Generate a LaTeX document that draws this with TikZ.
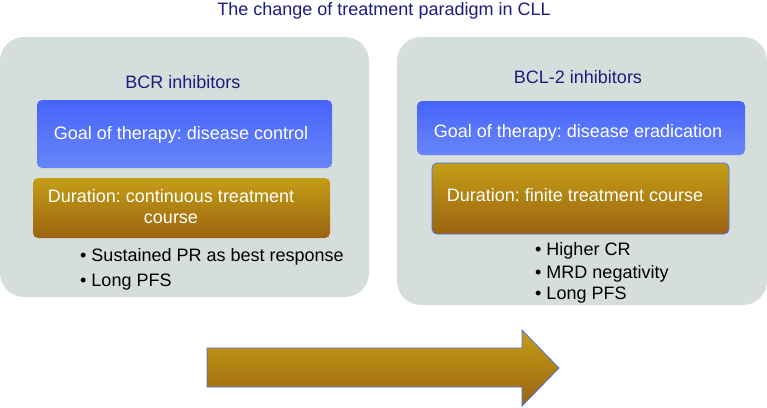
\documentclass[tikz,border=0pt]{standalone}
\usepackage{fontspec}
\setmainfont{Liberation Sans}
\usepackage{xcolor}
\usepackage{tikz}
\frenchspacing

\definecolor{panelgray}{RGB}{214,222,220}
\definecolor{navy}{RGB}{28,28,128}
\definecolor{bluetop}{RGB}{70,100,250}
\definecolor{bluebot}{RGB}{104,134,248}
\definecolor{goldtop}{RGB}{196,158,22}
\definecolor{goldbot}{RGB}{155,100,16}
\definecolor{edgeblue}{RGB}{80,110,240}

\begin{document}
\begin{tikzpicture}[x=1pt,y=-1pt,font=\fontsize{18}{20.5}\selectfont]
	\useasboundingbox (0,0) rectangle (767,407);
	\node[anchor=base,text=navy] (title) at (384,15) {The change of treatment paradigm in CLL};
	\tikzstyle{panel}=[fill=panelgray,rounded corners=24pt,inner sep=0pt,outer sep=0pt]
	\node[panel,minimum width=369pt,minimum height=260pt] (p1) at (184.5,167) {};
	\node[panel,minimum width=370pt,minimum height=268pt] (p2) at (582,171) {};
	\node[anchor=base,text=navy] (h1) at (183,88) {BCR inhibitors};
	\node[anchor=base,text=navy] (h2) at (578,83) {BCL-2 inhibitors};
	\tikzstyle{goalbox}=[top color=bluetop,bottom color=bluebot,rounded corners=5pt,inner sep=0pt,outer sep=0pt]
	\node[goalbox,minimum width=295pt,minimum height=68pt] (g1) at (184.5,134) {};
	\node[goalbox,minimum width=328pt,minimum height=54pt] (g2) at (581,128) {};
	\tikzstyle{durbox}=[top color=goldtop,bottom color=goldbot,rounded corners=5pt,inner sep=0pt,outer sep=0pt]
	\node[durbox,minimum width=297pt,minimum height=60pt] (d1) at (181.5,208) {};
	\node[durbox,draw=edgeblue,line width=0.8pt,minimum width=297pt,minimum height=71pt] (d2) at (580.5,198.5) {};
	\tikzstyle{every node}=[text=white,inner sep=0pt,anchor=base,align=center]
	\node (g1t) at (181,139) {Goal of therapy: disease control};
	\node (g2t) at (578,137) {Goal of therapy: disease eradication};
	\node (d1t) at (171,223) {Duration: continuous treatment\\course};
	\node (d2t) at (575,201) {Duration: finite treatment course};
	\tikzstyle{every node}=[text=black,inner sep=0pt,anchor=base west]
	\node (b11) at (80,261) {\textbullet\ Sustained PR as best response};
	\node (b12) at (80,286) {\textbullet\ Long PFS};
	\node (b21) at (535,255) {\textbullet\ Higher CR};
	\node (b22) at (535,278) {\textbullet\ MRD negativity};
	\node (b23) at (535,299) {\textbullet\ Long PFS};
	% arrow
	\coordinate (a1) at (207,348);
	\coordinate (a2) at (522,348);
	\coordinate (a3) at (522,330);
	\coordinate (tip) at (559,368);
	\coordinate (a5) at (522,406);
	\coordinate (a6) at (522,387);
	\coordinate (a7) at (207,387);
	\draw[top color=goldtop,bottom color=goldbot,draw=edgeblue,line width=0.8pt,line join=miter]
		(a1)--(a2)--(a3)--(tip)--(a5)--(a6)--(a7)--cycle;
\end{tikzpicture}
\end{document}
